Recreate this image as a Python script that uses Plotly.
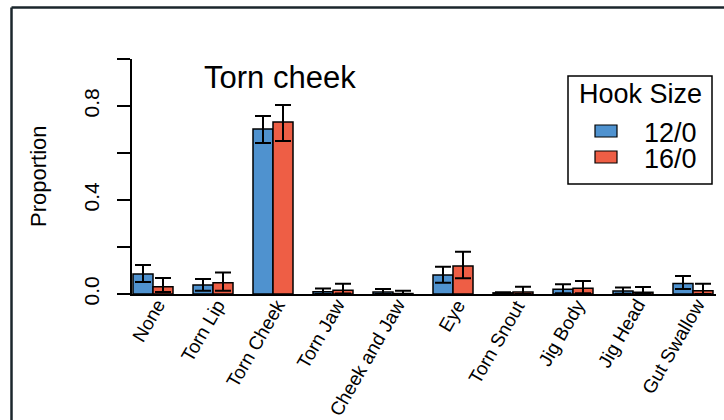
import plotly.graph_objects as go

categories = ["None", "Torn Lip", "Torn Cheek", "Torn Jaw", "Cheek and Jaw",
              "Eye", "Torn Snout", "Jig Body", "Jig Head", "Gut Swallow"]
hook_12 = [0.085, 0.038, 0.702, 0.010, 0.008, 0.081, 0.005, 0.020, 0.013, 0.045]
hook_12_lo = [0.051, 0.014, 0.643, 0.000, 0.000, 0.048, 0.000, 0.003, 0.001, 0.021]
hook_12_hi = [0.123, 0.064, 0.757, 0.023, 0.021, 0.116, 0.007, 0.041, 0.028, 0.077]
hook_16 = [0.031, 0.048, 0.732, 0.016, 0.002, 0.119, 0.008, 0.024, 0.007, 0.014]
hook_16_lo = [0.009, 0.014, 0.651, 0.002, 0.000, 0.067, 0.000, 0.003, 0.000, 0.000]
hook_16_hi = [0.068, 0.091, 0.804, 0.044, 0.014, 0.180, 0.031, 0.055, 0.030, 0.044]
y_ticks = [0.0, 0.2, 0.4, 0.6, 0.8, 1.0]
y_ticktext = ["0.0", "", "0.4", "", "0.8", ""]

BLUE = "#4F92CF"
RED = "#EE5E45"
FONT = "Liberation Sans, Arial, sans-serif"

# plot area in pixels
L, R, T, B = 132, 716, 59, 294
W, H = 724, 420

def px2x(px):
    return (px - L) / (R - L)

def px2y(py):
    return (B - py) / (B - T)

n = len(categories)
x_blue = [0.55 + 3 * i for i in range(n)]
x_red = [1.55 + 3 * i for i in range(n)]
x_center = [1.05 + 3 * i for i in range(n)]

fig = go.Figure()
fig.add_trace(go.Bar(
    x=x_blue, y=hook_12, width=1.0, name="12/0",
    marker=dict(color=BLUE, line=dict(color="black", width=1.5)),
    error_y=dict(type="data", symmetric=False,
                 array=[h - v for h, v in zip(hook_12_hi, hook_12)],
                 arrayminus=[v - l for v, l in zip(hook_12, hook_12_lo)],
                 color="black", thickness=2, width=8),
))
fig.add_trace(go.Bar(
    x=x_red, y=hook_16, width=1.0, name="16/0",
    marker=dict(color=RED, line=dict(color="black", width=1.5)),
    error_y=dict(type="data", symmetric=False,
                 array=[h - v for h, v in zip(hook_16_hi, hook_16)],
                 arrayminus=[v - l for v, l in zip(hook_16, hook_16_lo)],
                 color="black", thickness=2, width=8),
))

fig.update_layout(
    width=W, height=H,
    margin=dict(l=L, r=W - R, t=T, b=H - B, pad=0, autoexpand=False),
    paper_bgcolor="white", plot_bgcolor="white",
    showlegend=False, barmode="overlay",
    font=dict(family=FONT, color="black"),
    xaxis=dict(range=[0, 29.2], tickvals=x_center, showticklabels=False,
               ticks="", showline=True, linecolor="black",
               linewidth=1.5, showgrid=False, zeroline=False, automargin=False),
    yaxis=dict(range=[0, 1.0], tickvals=y_ticks, ticktext=y_ticktext,
               tickangle=-90, ticks="outside", ticklen=13, tickwidth=1.5,
               tickcolor="black", showline=True, linecolor="black",
               linewidth=1.5, showgrid=False, zeroline=False, automargin=False,
               ticklabelstandoff=10,
               tickfont=dict(size=21, family=FONT, color="black")),
)

# rotated category labels
for xc, lab in zip(x_center, categories):
    fig.add_annotation(text=lab, x=xc, xref="x", y=px2y(293), yref="paper",
                       xanchor="right", yanchor="top", xshift=19,
                       textangle=-60, showarrow=False,
                       font=dict(size=19, family=FONT, color="black"))

# outer frame (partially visible)
frame = "#1b262c"
fig.add_shape(type="line", xref="paper", yref="paper",
              x0=px2x(11.5), x1=px2x(730), y0=px2y(7.5), y1=px2y(7.5),
              line=dict(color=frame, width=2.5))
fig.add_shape(type="line", xref="paper", yref="paper",
              x0=px2x(11.5), x1=px2x(11.5), y0=px2y(7.5), y1=px2y(430),
              line=dict(color=frame, width=2.5))

# y axis title
fig.add_annotation(text="Proportion", xref="paper", yref="paper",
                   x=px2x(38), y=px2y(176), xanchor="center", yanchor="middle",
                   textangle=-90, showarrow=False,
                   font=dict(size=22, family=FONT, color="black"))

# panel title
fig.add_annotation(text="Torn cheek", xref="paper", yref="paper",
                   x=px2x(280), y=px2y(77), xanchor="center", yanchor="middle",
                   showarrow=False,
                   font=dict(size=31, family=FONT, color="black"))

# legend box
fig.add_shape(type="rect", xref="paper", yref="paper",
              x0=px2x(568), x1=px2x(712), y0=px2y(76), y1=px2y(184),
              line=dict(color="black", width=1.5), fillcolor="white")
fig.add_annotation(text="Hook Size", xref="paper", yref="paper",
                   x=px2x(640), y=px2y(94), xanchor="center", yanchor="middle",
                   showarrow=False,
                   font=dict(size=27, family=FONT, color="black"))
for (lab, col, cy) in [("12/0", BLUE, 131), ("16/0", RED, 157)]:
    fig.add_shape(type="rect", xref="paper", yref="paper",
                  x0=px2x(595), x1=px2x(617), y0=px2y(cy - 6), y1=px2y(cy + 6),
                  line=dict(color="black", width=1.2), fillcolor=col)
    fig.add_annotation(text=lab, xref="paper", yref="paper",
                       x=px2x(642), y=px2y(cy + 2), xanchor="left",
                       yanchor="middle", showarrow=False,
                       font=dict(size=27, family=FONT, color="black"))

fig.write_html("out.html", config={"displayModeBar": False},
               post_script="document.body.style.margin='0';"
                           "document.body.style.padding='0';")
